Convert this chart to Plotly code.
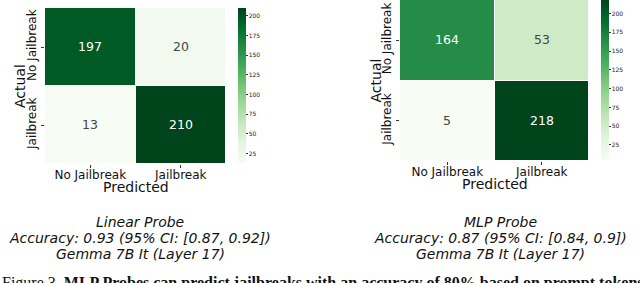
import plotly.graph_objects as go

labels = ["No Jailbreak", "Jailbreak"]
linear_cm = [[197, 20], [13, 210]]
mlp_cm = [[164, 53], [5, 218]]
cbar_ticks = [25, 50, 75, 100, 125, 150, 175, 200]
titles = [
    ["Linear Probe", "Accuracy: 0.93 (95% CI: [0.87, 0.92])", "Gemma 7B It (Layer 17)"],
    ["MLP Probe", "Accuracy: 0.87 (95% CI: [0.84, 0.9])", "Gemma 7B It (Layer 17)"],
]
caption = ("Figure 3. <b>MLP Probes can predict jailbreaks with an accuracy of 80% "
           "based on prompt tokens</b>")

greens = [
    [0.0, "#f7fcf5"], [0.125, "#e5f5e0"], [0.25, "#c7e9c0"], [0.375, "#a1d99b"],
    [0.5, "#74c476"], [0.625, "#41ab5d"], [0.75, "#238b45"], [0.875, "#006d2c"],
    [1.0, "#00441b"],
]

W, H = 640, 283
FONT = "DejaVu Sans"

def px_x(p):
    return p / W

def px_y(p):
    return 1 - p / H

panels = [
    dict(x0=45, x1=226, top=8, bot=164, cbx=238, cbt=8, cbb=163, z=linear_cm,
         ylab_x=20, xlab_y=187, title_x=140),
    dict(x0=400, x1=589, top=0, bot=161, cbx=601, cbt=0, cbb=160, z=mlp_cm,
         ylab_x=375, xlab_y=184, title_x=500),
]
title_line_y = [222, 238, 254]

fig = go.Figure()
annotations = []
for i, p in enumerate(panels):
    n = "" if i == 0 else str(i + 1)
    zflat = [v for row in p["z"] for v in row]
    fig.add_trace(go.Heatmap(
        z=p["z"], x=labels, y=labels,
        colorscale=greens, zmin=min(zflat), zmax=max(zflat),
        xgap=1, ygap=1,
        texttemplate="%{z}", textfont=dict(family=FONT, size=12.5),
        xaxis="x" + n, yaxis="y" + n,
        hoverinfo="skip",
        colorbar=dict(
            x=px_x(p["cbx"]), xanchor="left", xref="paper", xpad=0, ypad=0,
            y=px_y((p["cbt"] + p["cbb"]) / 2), yanchor="middle",
            len=(p["cbb"] - p["cbt"]) / H, lenmode="fraction",
            thickness=8, thicknessmode="pixels",
            outlinewidth=0,
            tickvals=cbar_ticks, ticks="outside", ticklen=2, tickwidth=1,
            tickcolor="#333", tickfont=dict(family=FONT, size=6, color="#222"),
        ),
    ))
    fig.layout["xaxis" + n] = dict(
        domain=[px_x(p["x0"]), px_x(p["x1"])], anchor="y" + n,
        ticks="outside", ticklen=3, tickcolor="#333", ticklabelstandoff=-3,
        tickfont=dict(family=FONT, size=12, color="#111"),
        showgrid=False, zeroline=False, showline=False,
    )
    fig.layout["yaxis" + n] = dict(
        domain=[px_y(p["bot"]), px_y(p["top"])], anchor="x" + n,
        autorange="reversed", tickangle=-90,
        ticks="outside", ticklen=3, tickcolor="#333",
        tickfont=dict(family=FONT, size=12, color="#111"),
        showgrid=False, zeroline=False, showline=False,
    )
    annotations.append(dict(
        text="Actual", x=px_x(p["ylab_x"]), y=px_y((p["top"] + p["bot"]) / 2),
        xref="paper", yref="paper", textangle=-90, showarrow=False,
        xanchor="center", yanchor="middle",
        font=dict(family=FONT, size=14, color="#111"),
    ))
    annotations.append(dict(
        text="Predicted", x=px_x((p["x0"] + p["x1"]) / 2), y=px_y(p["xlab_y"]),
        xref="paper", yref="paper", showarrow=False,
        xanchor="center", yanchor="middle",
        font=dict(family=FONT, size=14, color="#111"),
    ))
    for line, ly in zip(titles[i], title_line_y):
        annotations.append(dict(
            text="<i>" + line + "</i>",
            x=px_x(p["title_x"]), y=px_y(ly), xref="paper", yref="paper",
            showarrow=False, xanchor="center", yanchor="middle",
            font=dict(family=FONT, size=14, color="#111"),
        ))

annotations.append(dict(
    text=caption, x=0, y=px_y(272), xref="paper", yref="paper",
    showarrow=False, xanchor="left", yanchor="top", align="left",
    font=dict(family="Liberation Serif", size=16, color="#111"),
))

fig.update_layout(
    width=W, height=H, margin=dict(l=0, r=0, t=0, b=0),
    paper_bgcolor="white", plot_bgcolor="white",
    annotations=annotations, showlegend=False,
)

fig.write_html(
    "out.html",
    config={"displayModeBar": False},
    post_script="document.body.style.margin='0';document.body.style.padding='0';",
)
